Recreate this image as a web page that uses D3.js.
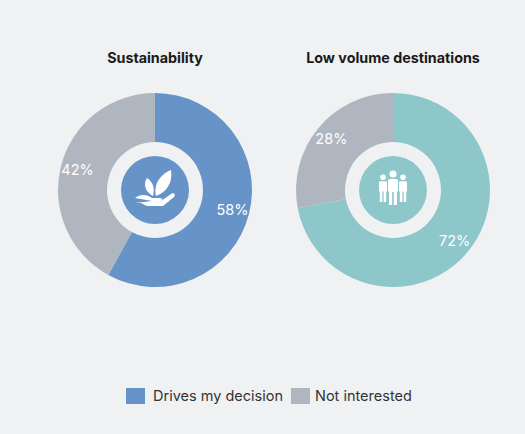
<!DOCTYPE html><html><head><meta charset="utf-8">
<script src="https://cdn.jsdelivr.net/npm/d3@7"></script>
<style>body{margin:0;background:#f0f1f3;font-family:Inter,"Noto Sans",sans-serif}</style></head><body>
<svg id="c" width="525" height="434"></svg>
<script>
const titles=["Sustainability","Low volume destinations"];
const categories=["Drives my decision","Not interested"];
const drives=[58,72];
const notInterested=[42,28];
const colors=["#6694c8","#b0b6c0"];
const accent=["#6694c8","#8dc7ca"];
const svg=d3.select("#c");
const centers=[155,393], cy=190, R=97;
const pie=d3.pie().sort(null).value(d=>d);
const arc=d3.arc().innerRadius(0).outerRadius(R);
const lab=d3.arc().innerRadius(80).outerRadius(80);
titles.forEach((t,i)=>{
  const g=svg.append("g").attr("transform",`translate(${centers[i]},${cy})`);
  svg.append("text").attr("x",centers[i]).attr("y",63).attr("text-anchor","middle")
    .attr("font-weight",700).attr("font-size",14.3).attr("fill","#1a1a1a").text(t);
  const data=pie([drives[i],notInterested[i]]);
  const cols=[accent[i],colors[1]];
  g.selectAll("path").data(data).join("path").attr("d",arc).attr("fill",(d,j)=>cols[j]);
  g.append("circle").attr("r",48).attr("fill","#f0f1f3");
  g.append("circle").attr("r",34).attr("fill",accent[i]);
  g.selectAll("text.l").data(data).join("text").attr("class","l")
    .attr("transform",d=>`translate(${lab.centroid(d)})`).attr("text-anchor","middle").attr("dy","0.35em")
    .attr("fill","#fff").attr("font-size",14.5).text(d=>d.data+"%");
  const ic=g.append("g").attr("fill","#fff");
  if(i===0){
    ic.append("path").attr("d","M-20,8 C-15,4 -8,4 -3,8 L5,8 C8,8 8,11 5,11 L-3,11 M-3,11 L6,11 L16,4 C19,2 21,5 19,7 L8,16 L-8,16 L-14,13 L-20,13 Z");
    ic.append("path").attr("d","M-2,6 C-10,2 -12,-6 -8,-12 C-2,-8 0,-2 -2,6 Z");
    ic.append("path").attr("d","M1,6 C-2,-6 6,-16 16,-20 C18,-8 12,2 1,6 Z");
  } else {
    [[-10,0.8],[0,1],[10,0.8]].forEach(([x,s])=>{
      const p=ic.append("g").attr("transform",`translate(${x},${-4*s}) scale(${s})`);
      p.append("circle").attr("cy",-12).attr("r",3.5);
      p.append("rect").attr("x",-5).attr("y",-7).attr("width",10).attr("height",13).attr("rx",1.5);
      p.append("rect").attr("x",-4).attr("y",5).attr("width",3.2).attr("height",14);
      p.append("rect").attr("x",0.8).attr("y",5).attr("width",3.2).attr("height",14);
    });
  }
});
const leg=[{x:126,w:153},{x:291,w:315}];
categories.forEach((c,i)=>{
  svg.append("rect").attr("x",leg[i].x).attr("y",388).attr("width",19).attr("height",16).attr("fill",colors[i]);
  svg.append("text").attr("x",leg[i].w).attr("y",401).attr("font-size",14.5).attr("fill","#333").text(c);
});
</script></body></html>
